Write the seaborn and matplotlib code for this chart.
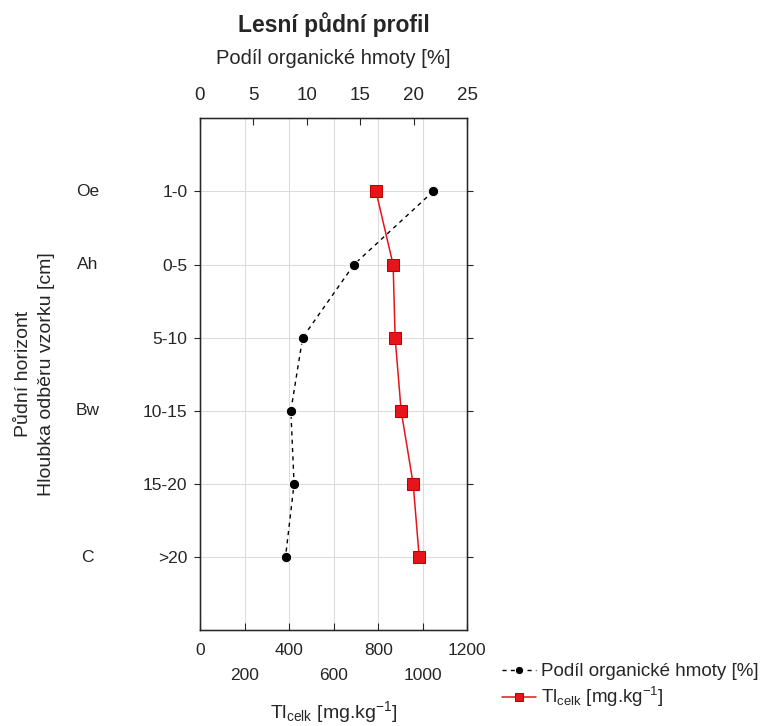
import matplotlib
matplotlib.use('Agg')

import matplotlib.pyplot as plt
import seaborn as sns
import numpy as np

# data
hloubka = ['1-0', '0-5', '5-10', '10-15', '15-20', '>20']
horizont = {'Oe': 0, 'Ah': 1, 'Bw': 3, 'C': 5}
organika = [21.8, 14.4, 9.6, 8.5, 8.8, 8.0]      # Podíl organické hmoty [%]
tl_celk = [790, 867, 876, 903, 957, 984]         # Tl celk [mg.kg-1]
tl_ticks = [0, 200, 400, 600, 800, 1000, 1200]
org_ticks = [0, 5, 10, 15, 20, 25]

sns.set_style('white')
plt.rcParams['font.family'] = ['Liberation Sans', 'DejaVu Sans']
plt.rcParams['mathtext.fontset'] = 'custom'
plt.rcParams['mathtext.rm'] = 'Liberation Sans'
plt.rcParams['mathtext.it'] = 'Liberation Sans'

fig = plt.figure(figsize=(7.75, 7.26), dpi=100)
ax = fig.add_axes([0.258, 0.132, 0.345, 0.705])
pos = np.arange(len(hloubka))
tl_label = r'Tl$_{\mathrm{celk}}$ [mg.kg$^{\mathrm{-1}}$]'

# Tl (spodní osa)
sns.lineplot(x=tl_celk, y=pos, sort=False, orient='y', ax=ax, color='#e8141b',
             marker='s', markersize=8, markeredgecolor='#c00000', linewidth=1.1,
             label=tl_label, legend=False)
ax.set_xlim(0, 1200)
ax.set_ylim(6, -1)
ax.set_xticks(tl_ticks)
ax.set_xticklabels([str(t) if i % 2 == 0 else '\n' + str(t) for i, t in enumerate(tl_ticks)],
                   linespacing=1.9)
ax.set_yticks(pos)
ax.set_yticklabels(hloubka)
ax.grid(True, color='#dcdcdc', linewidth=0.8)
ax.set_axisbelow(True)
ax.tick_params(axis='x', direction='in', length=5, pad=9, labelsize=12.5)
ax.tick_params(axis='y', direction='out', length=4, labelsize=12.5, right=True, left=True, pad=5)
ax.set_xlabel(tl_label, fontsize=14, labelpad=11)
ax.set_ylabel('Půdní horizont\nHloubka odběru vzorku [cm]', fontsize=14,
              labelpad=63, linespacing=1.45)
for sp in ax.spines.values():
    sp.set_color('black')
    sp.set_linewidth(1.0)

# organická hmota (horní osa)
ax2 = ax.twiny()
sns.lineplot(x=organika, y=pos, sort=False, orient='y', ax=ax2, color='black',
             marker='o', markersize=7.5, linestyle=(0, (3, 3)), linewidth=1.0,
             label='Podíl organické hmoty [%]', legend=False)
ax2.set_xlim(0, 25)
ax2.set_ylim(6, -1)
ax2.set_xticks(org_ticks)
ax2.tick_params(axis='x', direction='in', length=5, pad=10, labelsize=13.5)
ax2.set_xlabel('Podíl organické hmoty [%]', fontsize=14.5, labelpad=17)
ax2.set_title('Lesní půdní profil', fontsize=16.5, fontweight='bold', pad=12)

# horizonty
for name, p in horizont.items():
    ax.text(-0.42, p, name, transform=ax.get_yaxis_transform(), ha='center',
            va='center', fontsize=12.5)

h1, l1 = ax2.get_legend_handles_labels()
h2, l2 = ax.get_legend_handles_labels()
fig.legend(h1 + h2, l1 + l2, loc='lower left', bbox_to_anchor=(0.626, 0.0),
           frameon=False, fontsize=13.5, handlelength=1.8, handletextpad=0.3,
           labelspacing=0.25, markerscale=0.8)

fig.savefig('out.png', dpi=100)
